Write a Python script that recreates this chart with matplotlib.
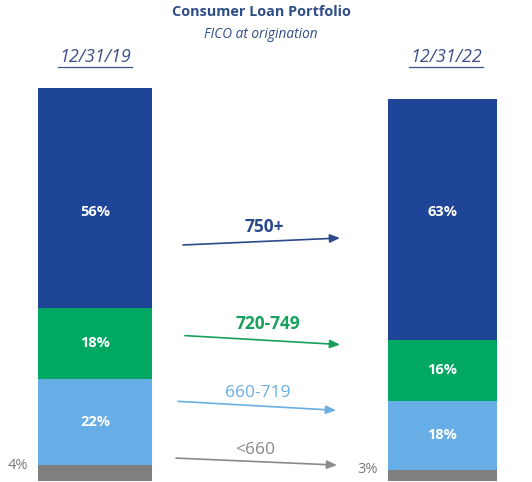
import matplotlib
matplotlib.use("Agg")
import matplotlib.pyplot as plt

plt.rcParams['font.family'] = ['Open Sans', 'DejaVu Sans']

# ---- data ----
dates = ["12/31/19", "12/31/22"]
bands = ["<660", "660-719", "720-749", "750+"]
share_2019 = [4, 22, 18, 56]
share_2022 = [3, 18, 16, 63]

# ---- style ----
colors = ["#7f7f7f", "#68aee6", "#00a862", "#1e4597"]
label_colors = ["#8a8a8a", "#6aaee2", "#16a05c", "#2b4a8c"]
bar_x = [95, 442.5]
bar_w = [114, 109]
bar_scale = [1.0, 0.97]

W, H = 532, 482
fig = plt.figure(figsize=(W / 100, H / 100), dpi=100)
ax = fig.add_axes([0, 0, 1, 1])
ax.set_xlim(0, W)
px = 3.95  # pixels per percentage point
ax.set_ylim(-1 / px, (483) / px)
ax.axis('off')

series = [share_2019, share_2022]
for i, vals in enumerate(series):
    bottom = 0
    for j, v in enumerate(vals):
        h = v * bar_scale[i]
        ax.bar(bar_x[i], h, width=bar_w[i], bottom=bottom, color=colors[j],
               linewidth=0)
        label = f"{v}%"
        if j == 0:
            ax.text(bar_x[i] - bar_w[i] / 2 - 10, bottom + h * 1.0, label,
                    ha='right', va='center', fontsize=10.5, color="#7a7a7a")
        elif j == len(vals) - 1:
            ax.text(bar_x[i], (483 - 213) / px, label, ha='center', va='center',
                    fontsize=10.5, fontweight='bold', color='white')
        else:
            ax.text(bar_x[i], bottom + h / 2, label, ha='center', va='center',
                    fontsize=10.5, fontweight='bold', color='white')
        bottom += h

# titles
fig.text(261 / W, 1 - 12 / H, "Consumer Loan Portfolio", ha='center', va='center',
         fontsize=10.4, fontweight='bold', color="#2f4d86")
fig.text(261 / W, 1 - 34 / H, "FICO at origination", ha='center', va='center',
         fontsize=9.8, fontstyle='italic', color="#2f4d86")

date_cx = [95, 446]
for d, cx in zip(dates, date_cx):
    fig.text(cx / W, 1 - 57 / H, d, ha='center', va='center', fontsize=13,
             fontstyle='italic', color="#3d5088")
    fig.lines.append(plt.Line2D([(cx - 37) / W, (cx + 37) / W],
                                [1 - 67 / H, 1 - 67 / H],
                                transform=fig.transFigure, color="#3d5088",
                                linewidth=0.9))

# transition arrows (pixel layout: start, end, label position)
arrows = [
    ((183, 246), (340, 239), (264, 228)),
    ((185, 337), (340, 346), (268, 325)),
    ((178, 403), (336, 412), (258, 395)),
    ((176, 460), (337, 467), (255, 452)),
]
for j, ((x0, y0), (x1, y1), (lx, ly)) in zip([3, 2, 1, 0], arrows):
    ax.annotate("", xy=(x1, (483 - y1) / px), xytext=(x0, (483 - y0) / px),
                arrowprops=dict(arrowstyle='-|>,head_length=0.6,head_width=0.25',
                                color=label_colors[j], lw=1.2,
                                shrinkA=0, shrinkB=0))
    ax.text(lx, (483 - ly) / px, bands[j], ha='center', va='center',
            fontsize=12.5, fontweight='bold' if j >= 2 else 'normal',
            color=label_colors[j])

fig.savefig("out.png", dpi=100)
